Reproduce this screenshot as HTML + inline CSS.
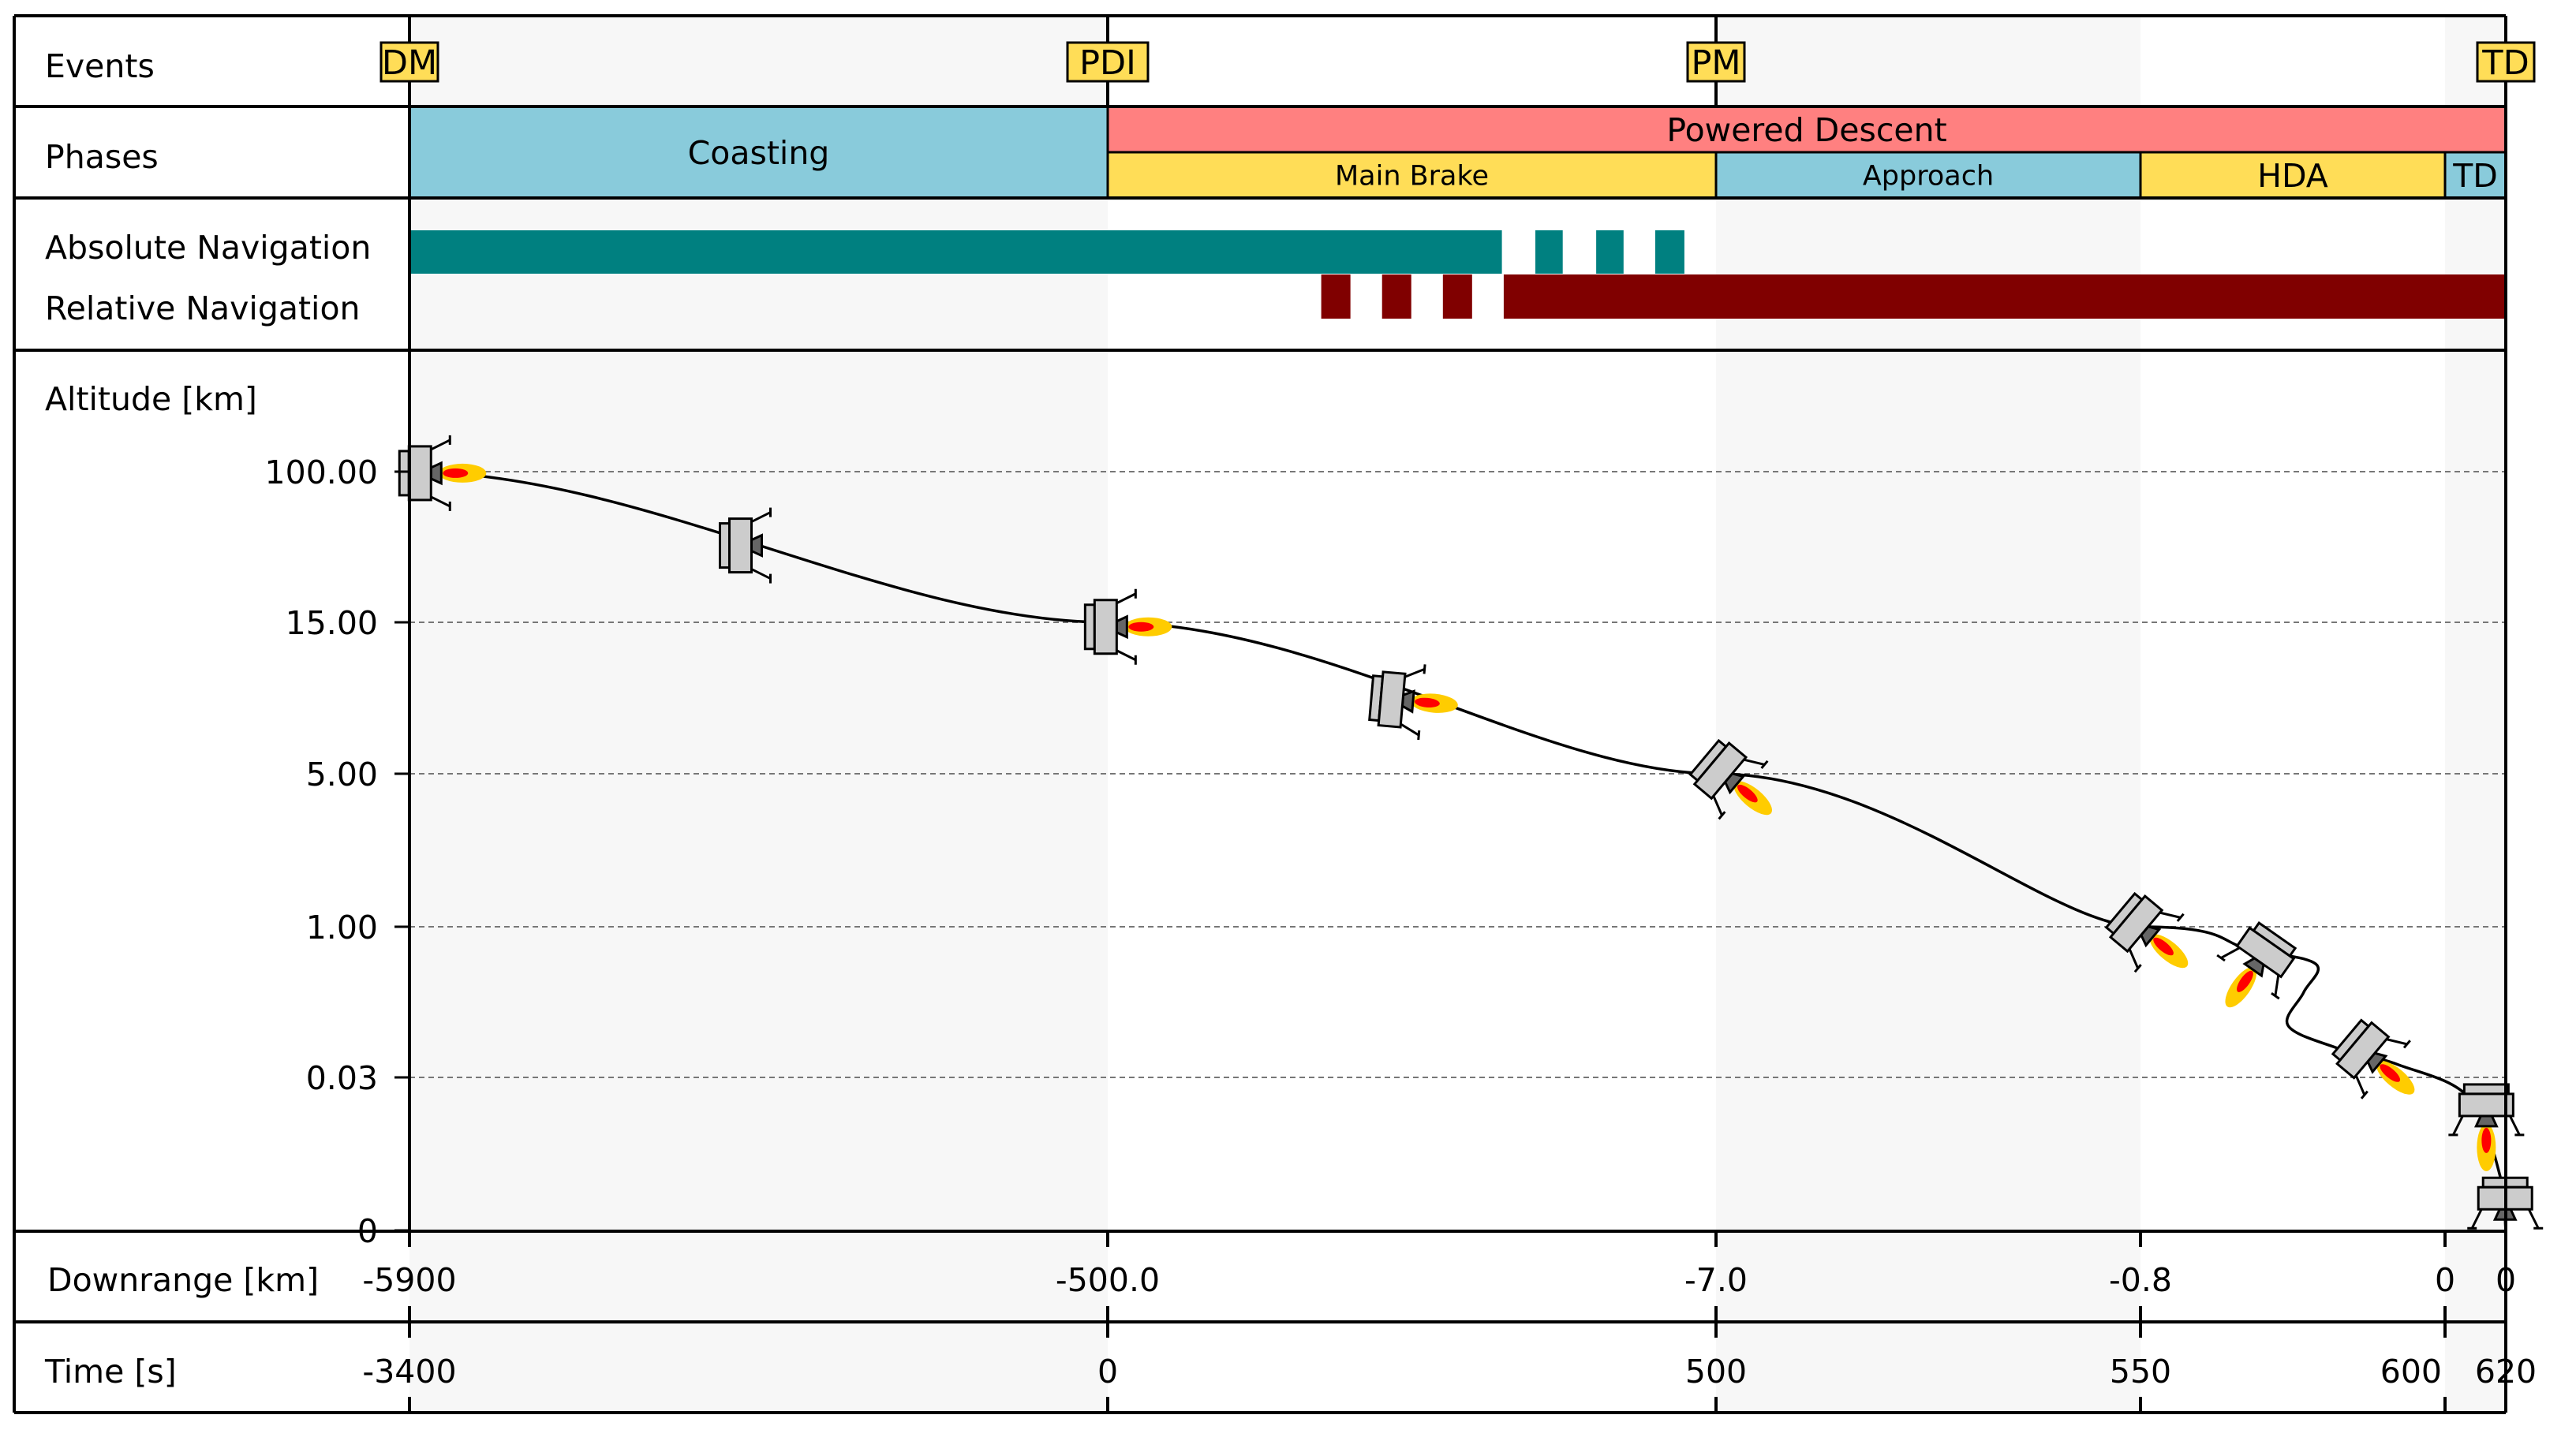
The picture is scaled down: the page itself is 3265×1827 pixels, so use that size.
<!DOCTYPE html>
<html><head><meta charset="utf-8"><style>
html,body{margin:0;padding:0;background:#fff;}
svg{display:block;font-family:"DejaVu Sans","Liberation Sans",sans-serif;}
</style></head><body>
<svg id="chart" width="3265" height="1827" viewBox="0 0 3265 1827" xmlns="http://www.w3.org/2000/svg">
<g id="bg"></g><g id="grid"></g><g id="rows"></g><g id="traj"></g><g id="landers"></g><g id="frame"></g><g id="labels"></g>
</svg>
<script>
// ---- data ----
const eventNames = ["DM","PDI","PM","","","TD"];
const eventShow = [true,true,true,false,false,true];
const downrangeLabels = ["-5900","-500.0","-7.0","-0.8","0","0"];
const timeLabels = ["-3400","0","500","550","600","620"];
const altitudeLabels = ["0","0.03","1.00","5.00","15.00","100.00"];
const phaseTop = [["Coasting",0,1],["Powered Descent",1,5]];
const phaseBottom = [["Main Brake",1,2],["Approach",2,3],["HDA",3,4],["TD",4,5]];
const absNav = [[0,1.648],[1.703,1.748],[1.803,1.848],[1.900,1.948]];
const relNav = [[1.351,1.399],[1.451,1.499],[1.551,1.599],[1.651,5]];
const trajX = [0,1,2,3,3.355,3.575,3.536,3.484,3.640,3.847,4.40,4.92,5];
const trajY = [5,4,3,2,1.853,1.754,1.565,1.346,1.199,1.084,0.866,0.335,0];
const trajFlat = [1,1,1,1,0,0,0,0,0,0,0,0,0];
const landerX = [0.015,0.474,0.997,1.467,2.01,2.99,3.41,3.73,4.68,4.99];
const landerY = [4.99,4.51,3.97,3.49,3.02,2.02,1.83,1.18,0.82,0.21];
const landerRot = [-90,-90,-90,-85,-50,-50,35,-50,0,0];
const landerFlame = [1,0,1,1,1,1,1,1,1,0];

// ---- axes ----
const XP=[519,1404,2175,2713,3099,3176];
const YP=[1560,1366,1175,981,789,598];
function sx(v){const i=Math.max(0,Math.min(4,Math.floor(v)));return XP[i]+(v-i)*(XP[i+1]-XP[i]);}
function sy(v){const i=Math.max(0,Math.min(4,Math.floor(v)));return YP[i]+(v-i)*(YP[i+1]-YP[i]);}
const NS="http://www.w3.org/2000/svg";
function mk(tag,attrs,parent){const e=document.createElementNS(NS,tag);for(const k in attrs)e.setAttribute(k,attrs[k]);parent.appendChild(e);return e;}
const G=id=>document.getElementById(id);
const L=18,R=3176,T=20,Y1=135,Y2=251,Y3=444,Y4=1561,Y5=1676,B=1791,SH="#f7f7f7";

// background shading
[[0,1],[2,3],[4,5]].forEach((s,i)=>{
 const r=mk('rect',{x:sx(s[0]),y:T,width:sx(s[1])-sx(s[0]),height:B-T,fill:SH},G('bg'));
 
 
});
// grid lines + altitude ticks
altitudeLabels.forEach((lab,i)=>{
 const y=sy(i);
 if(i>0){const g=mk('line',{x1:519,x2:R,y1:y,y2:y,stroke:'#777','stroke-width':2,'stroke-dasharray':'7,5'},G('grid'));
 
 }
 const t=mk('line',{x1:500,x2:519,y1:y,y2:y,stroke:'#000','stroke-width':3},G('frame'));
 
 
 const tx=mk('text',{x:479,y:y+15,'font-size':41,'text-anchor':'end'},G('labels'));tx.textContent=lab;
 
 
});
// phases
const phTop=[['#89cbdb'],['#ff8080']];
phaseTop.forEach((p,i)=>{
 const y0=Y1, h = i==0 ? Y2-Y1 : (Y2-Y1)/2;
 const r=mk('rect',{x:sx(p[1]),y:y0,width:sx(p[2])-sx(p[1]),height:h,fill:phTop[i][0],stroke:'#000','stroke-width':3},G('rows'));
 
 
 const t=mk('text',{x:(sx(p[1])+sx(p[2]))/2,y:y0+h/2+15,'font-size':41,'text-anchor':'middle'},G('labels'));t.textContent=p[0];
 
 
});
const phBotCol=['#ffdd57','#89cbdb','#ffdd57','#89cbdb'];
const phBotSize=[35,35,41,41];
phaseBottom.forEach((p,i)=>{
 const y0=(Y1+Y2)/2,h=(Y2-Y1)/2;
 const r=mk('rect',{x:sx(p[1]),y:y0,width:sx(p[2])-sx(p[1]),height:h,fill:phBotCol[i],stroke:'#000','stroke-width':3},G('rows'));
 
 
 const t=mk('text',{x:(sx(p[1])+sx(p[2]))/2,y:y0+h/2+phBotSize[i]*0.36,'font-size':phBotSize[i],'text-anchor':'middle'},G('labels'));t.textContent=p[0];
 
 
});
// navigation bars
absNav.forEach(s=>{const r=mk('rect',{x:sx(s[0]),y:292,width:sx(s[1])-sx(s[0]),height:55,fill:'#008080'},G('rows'));
 
 });
relNav.forEach(s=>{const r=mk('rect',{x:sx(s[0]),y:348,width:sx(s[1])-sx(s[0]),height:56,fill:'#800000'},G('rows'));
 
 });
// trajectory
(function(){
 const P=trajX.map((x,i)=>[sx(x),sy(trajY[i])]);const n=P.length;
 const Tg=P.map((p,i)=>{const a=P[Math.max(0,i-1)],b=P[Math.min(n-1,i+1)];const f=(i==0||i==n-1)?1:0.5;
  if(trajFlat[i])return[(b[0]-a[0])*f,0];return[(b[0]-a[0])*f,(b[1]-a[1])*f];});
 let d='M'+P[0][0]+','+P[0][1];
 for(let i=0;i<n-1;i++){d+=' C'+(P[i][0]+Tg[i][0]/3)+','+(P[i][1]+Tg[i][1]/3)+' '+(P[i+1][0]-Tg[i+1][0]/3)+','+(P[i+1][1]-Tg[i+1][1]/3)+' '+P[i+1][0]+','+P[i+1][1];}
 const p=mk('path',{d:d,fill:'none',stroke:'#000','stroke-width':3.5},G('traj'));
 
 
})();
// landers
landerX.forEach((lx,i)=>{
 const g=mk('g',{transform:`translate(${sx(lx)},${sy(landerY[i])}) rotate(${landerRot[i]})`},G('landers'));
 
 
 const st={stroke:'#000','stroke-width':3};
 if(landerFlame[i]){mk('ellipse',{cx:0,cy:54,rx:12,ry:30,fill:'#ffcc00'},g);mk('ellipse',{cx:0,cy:45,rx:6,ry:16,fill:'#ff0000'},g);}
 [[-1],[1]].forEach(s=>{const k=s[0];mk('line',Object.assign({x1:30*k,y1:14,x2:42*k,y2:38},st),g);mk('line',Object.assign({x1:36*k,y1:38,x2:48*k,y2:38},st),g);});
 mk('polygon',Object.assign({points:'-7,14 7,14 13,27 -13,27',fill:'#666'},st),g);
 mk('rect',Object.assign({x:-28,y:-26,width:56,height:12,fill:'#ccc'},st),g);
 mk('rect',Object.assign({x:-34,y:-14,width:68,height:28,fill:'#ccc'},st),g);
});
// frame lines
[[L,T,R,T],[L,Y1,R,Y1],[L,Y2,R,Y2],[L,Y3,R,Y3],[L,Y4,R,Y4],[L,Y5,R,Y5],[L,B,R,B],[L,T,L,B],[519,Y1,519,Y4],[R,T,R,B]].forEach(l=>{
 const e=mk('line',{x1:l[0],y1:l[1],x2:l[2],y2:l[3],stroke:'#000','stroke-width':4},G('frame'));
 
 
});
// events
eventNames.forEach((ev,i)=>{
 const x=sx(i);
 if(eventShow[i]){
  const ln=mk('line',{x1:x,y1:T,x2:x,y2:Y1,stroke:'#000','stroke-width':4},G('frame'));
  
  
  const w=ev.length*30+12;
  const r=mk('rect',{x:x-w/2,y:54,width:w,height:49,fill:'#ffdd57',stroke:'#000','stroke-width':3},G('labels'));
  
  
  const t=mk('text',{x:x,y:94,'font-size':43,'text-anchor':'middle'},G('labels'));t.textContent=ev;
  
  
 }
 // ticks
 [[Y4,Y4+20],[Y5-20,Y5+20],[B-20,B]].forEach(tk=>{const e=mk('line',{x1:x,x2:x,y1:tk[0],y2:tk[1],stroke:'#000','stroke-width':4},G('frame'));
  
  });
 const d=mk('text',{x:x,y:1637,'font-size':41,'text-anchor':'middle'},G('labels'));d.textContent=downrangeLabels[i];
 
 
 const tt=mk('text',{x:i==4?x-4:x,y:1753,'font-size':41,'text-anchor':i==4?'end':'middle'},G('labels'));tt.textContent=timeLabels[i];
 
 
});
// row titles
[["Events",57,98,"events-row-title"],["Phases",57,213,"phases-row-title"],["Absolute Navigation",57,328,"absolute-navigation-title"],["Relative Navigation",57,405,"relative-navigation-title"],["Altitude [km]",57,520,"altitude-axis-title"],["Downrange [km]",60,1637,"downrange-axis-title"],["Time [s]",57,1753,"time-axis-title"]].forEach(r=>{
 const t=mk('text',{x:r[1],y:r[2],'font-size':41},G('labels'));t.textContent=r[0];
 
 
});
</script>
</body></html>
